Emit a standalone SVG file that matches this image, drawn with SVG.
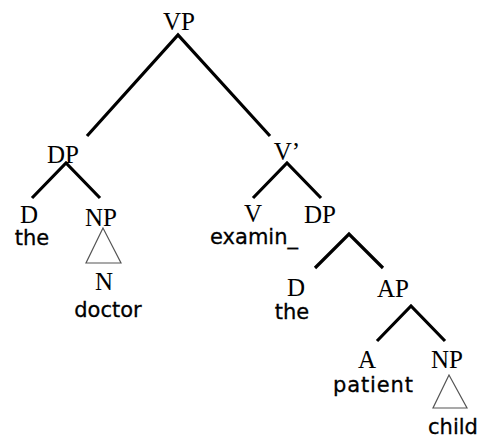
<svg xmlns="http://www.w3.org/2000/svg" width="481" height="442" viewBox="0 0 481 442">
  <style>
    .cat { font-family: "Liberation Serif", "Times New Roman", serif; font-size: 25px; fill: #000; text-anchor: middle; }
    .word { font-family: "DejaVu Sans", "Liberation Sans", sans-serif; font-size: 21px; fill: #000; text-anchor: middle; stroke: #000; stroke-width: 0.3; }
    .branch { stroke: #000; stroke-width: 3.2; fill: none; stroke-linecap: butt; }
    .tri { stroke: #555; stroke-width: 1.2; fill: none; }
  </style>
  <rect width="481" height="442" fill="#fff"/>

  <g id="connectors">
    <polyline class="branch" points="87,136 178,35 270,136"/>
    <polyline class="branch" points="32,198 66,163 100,198"/>
    <polyline class="branch" points="253,198 287,163 321,198"/>
    <polyline class="branch" points="315,268 349,234 383,268"/>
    <polyline class="branch" points="377,341 411,306 445,341"/>
    <polygon class="tri" points="103,228 86,263 121,263"/>
    <polygon class="tri" points="449,375 433,408 467,408"/>
  </g>

  <g id="vp"><text class="cat" x="179" y="30">VP</text></g>
  <g id="dp-subject"><text class="cat" x="63" y="163">DP</text></g>
  <g id="v-bar"><text class="cat" x="287" y="160">V’</text></g>
  <g id="d-subject">
    <text class="cat" x="29" y="223">D</text>
    <text class="word" x="32" y="245">the</text>
  </g>
  <g id="np-subject"><text class="cat" x="101" y="226">NP</text></g>
  <g id="n-subject">
    <text class="cat" x="104" y="290">N</text>
    <text class="word" x="108" y="317">doctor</text>
  </g>
  <g id="v">
    <text class="cat" x="253" y="222">V</text>
    <text class="word" x="254" y="244" textLength="88">examin_</text>
  </g>
  <g id="dp-object"><text class="cat" x="320" y="223">DP</text></g>
  <g id="d-object">
    <text class="cat" x="296" y="296">D</text>
    <text class="word" x="292" y="319">the</text>
  </g>
  <g id="ap"><text class="cat" x="393" y="297">AP</text></g>
  <g id="a">
    <text class="cat" x="367" y="368">A</text>
    <text class="word" x="373" y="392" textLength="80">patient</text>
  </g>
  <g id="np-object">
    <text class="cat" x="447" y="368">NP</text>
    <text class="word" x="453" y="434">child</text>
  </g>
</svg>
